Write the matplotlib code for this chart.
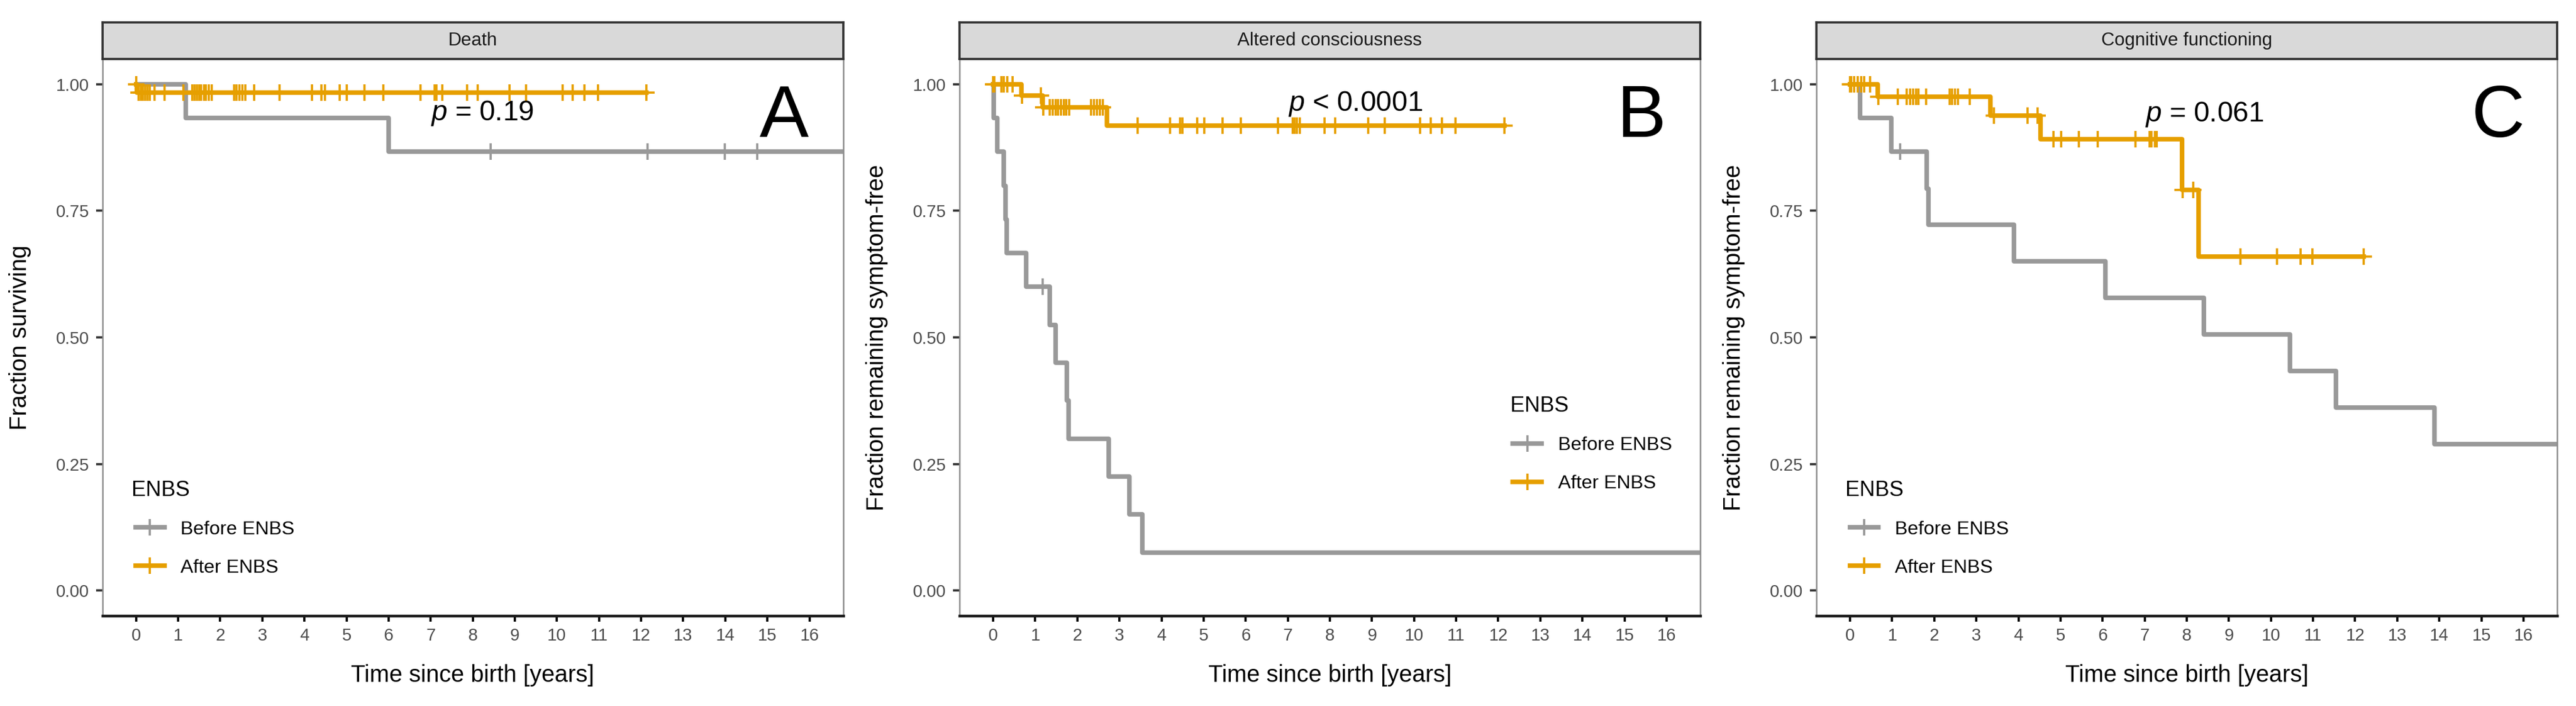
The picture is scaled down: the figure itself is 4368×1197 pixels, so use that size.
import numpy as np
import matplotlib
matplotlib.use("Agg")
import matplotlib.pyplot as plt
from matplotlib.lines import Line2D

plt.rcParams['font.family'] = ['Liberation Sans', 'DejaVu Sans']
plt.rcParams['mathtext.fontset'] = 'custom'
plt.rcParams['mathtext.rm'] = 'Liberation Sans'
plt.rcParams['mathtext.it'] = 'Liberation Sans:italic'

# ---- data ----
panel_titles = ['Death', 'Altered consciousness', 'Cognitive functioning']
panel_letters = ['A', 'B', 'C']
y_labels = ['Fraction surviving', 'Fraction remaining symptom-free', 'Fraction remaining symptom-free']
p_texts = [r'$\mathit{p}$ = 0.19', r'$\mathit{p}$ < 0.0001', r'$\mathit{p}$ = 0.061']
p_y = [0.929, 0.9475, 0.927]
group_labels = ['Before ENBS', 'After ENBS']

# Before ENBS: step times / survival after each step, censor times, last follow-up
before_t = [
    [0.0, 1.18, 6.0],
    [0.0, 0.01, 0.09, 0.25, 0.29, 0.32, 0.79, 1.34, 1.49, 1.75, 1.79, 2.75, 3.23, 3.54],
    [0.0, 0.23, 0.98, 1.82, 1.86, 3.89, 6.06, 8.41, 10.45, 11.55, 13.89],
]
before_s = [
    [1.0, 0.933, 0.867],
    [1.0, 0.933, 0.867, 0.800, 0.733, 0.667, 0.600, 0.525, 0.450, 0.375, 0.300, 0.225, 0.150, 0.075],
    [1.0, 0.933, 0.867, 0.794, 0.722, 0.650, 0.578, 0.506, 0.433, 0.361, 0.289],
]
before_cens = [
    [8.42, 12.16, 13.99, 14.76],
    [1.18],
    [1.19],
]
before_end = [18.0, 18.0, 18.0]

# After ENBS
after_t = [
    [0.0, 0.02],
    [0.0, 0.675, 1.18, 2.71],
    [0.0, 0.66, 3.33, 4.53, 7.89, 8.28],
]
after_s = [
    [1.0, 0.983],
    [1.0, 0.978, 0.954, 0.918],
    [1.0, 0.976, 0.938, 0.891, 0.791, 0.660],
]
after_cens = [
    [0.0, 0.06, 0.11, 0.16, 0.21, 0.27, 0.32, 0.44, 0.67, 1.13, 1.34, 1.39, 1.45, 1.50,
     1.55, 1.61, 1.66, 1.73, 1.80, 2.33, 2.38, 2.45, 2.52, 2.60, 2.81, 3.41, 4.18, 4.41,
     4.49, 4.84, 5.00, 5.43, 5.87, 6.76, 7.09, 7.14, 7.27, 7.86, 8.12, 8.88, 9.27, 10.14,
     10.37, 10.65, 10.97, 12.13],
    [0.0, 0.02, 0.19, 0.25, 0.33, 0.46, 0.68, 1.13, 1.19, 1.34, 1.41, 1.48, 1.54, 1.61,
     1.68, 1.74, 1.81, 2.33, 2.40, 2.47, 2.53, 2.61, 3.43, 4.20, 4.44, 4.50, 4.85, 5.01,
     5.45, 5.89, 6.77, 7.12, 7.16, 7.22, 7.28, 7.87, 8.13, 8.91, 9.30, 10.14, 10.40,
     10.66, 10.99, 12.15],
    [0.0, 0.02, 0.10, 0.18, 0.26, 0.33, 0.47, 0.67, 1.14, 1.34, 1.43, 1.50, 1.57, 1.62,
     1.81, 2.36, 2.42, 2.49, 2.56, 2.84, 3.42, 4.21, 4.45, 4.84, 5.01, 5.44, 5.88, 6.78,
     7.12, 7.16, 7.24, 7.28, 7.90, 8.15, 9.28, 10.15, 10.71, 10.99, 12.20],
]
after_end = [12.13, 12.15, 12.20]

x_ticks = list(range(0, 17))
y_ticks = [0.0, 0.25, 0.5, 0.75, 1.0]

# legend placement (axes fraction): title left/baseline, entries left/centre
legend_title_pos = [(0.039, 0.215), (0.744, 0.367), (0.039, 0.215)]
legend_pos = [(0.045, 0.1205), (0.747, 0.2715), (0.045, 0.1205)]

colors = ['#999999', '#E69F00']

W, H = 4368, 1197
fig = plt.figure(figsize=(W / 300, H / 300), dpi=300)

lefts = [173.6, 1627, 3080]
ax_w = 1256
ax_bottom = (H - 1044) / H
ax_h = (1044 - 100) / H
strip_h = 62 / H


def surv_at(ts, ss, x):
    idx = np.searchsorted(ts, x, side='right') - 1
    return np.asarray(ss)[np.clip(idx, 0, None)]


for i in range(3):
    ax = fig.add_axes([lefts[i] / W, ax_bottom, ax_w / W, ax_h])
    groups = [
        (before_t[i], before_s[i], before_cens[i], before_end[i]),
        (after_t[i], after_s[i], after_cens[i], after_end[i]),
    ]
    for g, (ts, ss, cs, end) in enumerate(groups):
        xs = list(ts) + [end]
        ys = list(ss) + [ss[-1]]
        ax.step(xs, ys, where='post', color=colors[g], lw=1.85, zorder=2 + g)
        cy = surv_at(ts, ss, np.array(cs))
        ax.plot(cs, cy, ls='none', marker='+', ms=6.5, mew=0.9,
                color=colors[g], zorder=2 + g)

    ax.set_xlim(-0.8, 16.8)
    ax.set_ylim(-0.05, 1.05)
    ax.set_xticks(x_ticks)
    ax.set_yticks(y_ticks)
    ax.set_yticklabels(['0.00', '0.25', '0.50', '0.75', '1.00'])
    ax.tick_params(axis='x', colors='black', length=2.3, width=0.9,
                   labelsize=7, labelcolor='#4D4D4D', pad=2.5)
    ax.tick_params(axis='y', colors='#333333', length=2.6, width=0.9,
                   labelsize=7, labelcolor='#4D4D4D', pad=2.8)
    for s in ['left', 'right', 'top']:
        ax.spines[s].set_color('#8C8C8C')
        ax.spines[s].set_linewidth(0.6)
    ax.spines['bottom'].set_color('#1A1A1A')
    ax.spines['bottom'].set_linewidth(1.1)

    ax.set_xlabel('Time since birth [years]', fontsize=9.6)
    ax.xaxis.set_label_coords(0.5, -0.087)
    ax.set_ylabel(y_labels[i], fontsize=9.6)
    ax.yaxis.set_label_coords(-0.096, 0.5)

    ax.text(7.0, p_y[i], p_texts[i], fontsize=11.5, ha='left', va='baseline')
    ax.text(15.4, 0.896, panel_letters[i], fontsize=30, ha='center', va='baseline')

    # legend: title as its own text, entries via legend()
    tx, ty = legend_title_pos[i]
    ax.text(tx, ty, 'ENBS', fontsize=8.7, ha='left', va='baseline',
            transform=ax.transAxes)
    handles = [Line2D([0], [0], color=colors[g], lw=1.85, marker='+', ms=6.5, mew=0.9)
               for g in range(2)]
    ax.legend(handles, group_labels, loc='center left',
              bbox_to_anchor=legend_pos[i], frameon=False, fontsize=7.8,
              handlelength=1.5, handletextpad=0.85, labelspacing=1.08,
              borderpad=0, borderaxespad=0, numpoints=1)

    # facet strip
    sax = fig.add_axes([lefts[i] / W, ax_bottom + ax_h, ax_w / W, strip_h])
    sax.set_facecolor('#D9D9D9')
    sax.set_xticks([])
    sax.set_yticks([])
    for s in sax.spines.values():
        s.set_color('#333333')
        s.set_linewidth(0.9)
    sax.text(0.5, 0.5, panel_titles[i], fontsize=7.5, color='#1A1A1A',
             ha='center', va='center', transform=sax.transAxes)

fig.savefig('out.png', dpi=300)
